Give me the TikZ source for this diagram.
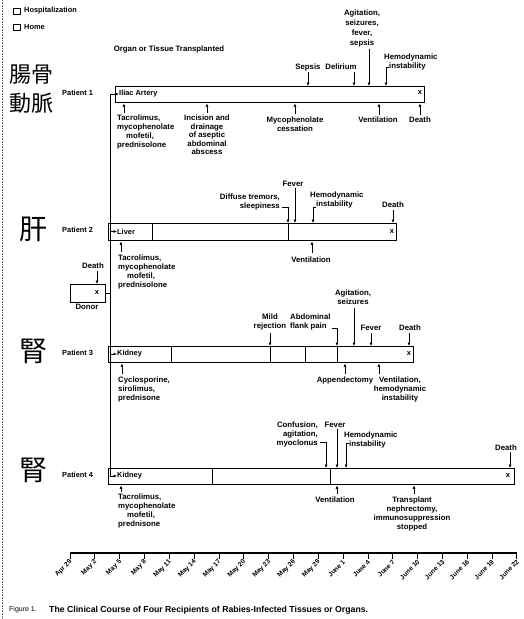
\documentclass[tikz,border=0pt]{standalone}
\usepackage{fontspec}
\setmainfont{Liberation Sans}
\newfontfamily\cjk{Noto Sans CJK JP}
\usetikzlibrary{arrows.meta,calc}
\begin{document}
\begin{tikzpicture}[x=1pt,y=-1pt,
  lbl/.style={font=\bfseries\fontsize{7.8}{9}\selectfont, align=center, inner sep=0pt, anchor=north},
  lbll/.style={lbl, align=left, anchor=north west},
  lblr/.style={lbl, align=right, anchor=north east},
  plabel/.style={font=\bfseries\fontsize{7.4}{8}\selectfont, inner sep=0pt, anchor=west},
  kanji/.style={font=\cjk\fontsize{22}{29}\selectfont, inner sep=0pt, anchor=north west, align=left},
  kanjib/.style={font=\cjk\fontsize{28}{30}\selectfont, inner sep=0pt, anchor=north west},
  box/.style={draw, line width=1.4pt, anchor=north west, inner sep=0pt, fill=white},
  div/.style={line width=0.9pt},
  arr/.style={-{Latex[length=3.4pt,width=3pt]}, line width=0.9pt},
  link/.style={line width=1pt},
  tick/.style={line width=0.9pt},
  datel/.style={font=\bfseries\fontsize{6.6}{7}\selectfont, inner sep=0pt, rotate=45, anchor=east},
  dmark/.style={font=\bfseries\fontsize{7.5}{8}\selectfont, inner sep=0pt},
  legbox/.style={draw, line width=1.1pt, minimum width=6.5pt, minimum height=5.5pt, inner sep=0pt, anchor=north west},
]
\useasboundingbox (0,0) rectangle (524,619);
\fill[white] (0,0) rectangle (524,619);
\draw[densely dotted, line width=0.6pt, black!60] (2,0) -- (2,619);

% legend
\node[legbox] (lgh) at (13,8) {};
\node[plabel] (lght) at (24,11) {Hospitalization};
\node[legbox] (lgm) at (13,24) {};
\node[plabel] (lgmt) at (24,27) {Home};

\node[lbl] (title) at (169,46) {Organ or Tissue Transplanted};

% kanji
\node[kanji] (k1) at (9,65) {腸骨\\動脈};
\node[kanjib] (k2) at (19,217) {肝};
\node[kanjib] (k3) at (19,339) {腎};
\node[kanjib] (k4) at (19,458) {腎};

% patient labels
\node[plabel] (pl1) at (62,93) {Patient 1};
\node[plabel] (pl2) at (62,230) {Patient 2};
\node[plabel] (pl3) at (62,353) {Patient 3};
\node[plabel] (pl4) at (62,475) {Patient 4};

% boxes
\node[box, minimum width=309pt, minimum height=16pt] (p1) at (115,86) {};
\node[box, minimum width=288pt, minimum height=17pt] (p2) at (108,223) {};
\node[box, minimum width=305pt, minimum height=16pt] (p3) at (108,346) {};
\node[box, minimum width=406pt, minimum height=16pt] (p4) at (108,468) {};
\node[box, line width=1.1pt, minimum width=35pt, minimum height=18pt] (donor) at (70,284) {};

% dividers
\draw[div] (152,223) -- (152,240);
\draw[div] (288,223) -- (288,240);
\draw[div] (171,346) -- (171,362);
\draw[div] (270,346) -- (270,362);
\draw[div] (305,346) -- (305,362);
\draw[div] (337,346) -- (337,362);
\draw[div] (212,468) -- (212,484);
\draw[div] (330,468) -- (330,484);

% organ labels inside boxes
\node[plabel] (o1) at (119,94) {Iliac Artery};
\node[plabel] (o2) at (117,231.5) {Liver};
\node[plabel] (o3) at (117,354) {Kidney};
\node[plabel] (o4) at (117,476) {Kidney};

% death marks
\node[dmark] (x1) at (420,93) {x};
\node[dmark] (x2) at (392,232) {x};
\node[dmark] (x3) at (409,354) {x};
\node[dmark] (x4) at (508,476) {x};
\node[dmark] (xd) at (97,293) {x};

% donor tree
\coordinate (vtop) at (110,94);
\coordinate (vbot) at (110,476);
\draw[link] (vtop) -- (vbot);
\draw[link] (donor.east) -- (donor.east -| vtop);
\draw[arr] (vtop) -- (o1.west);
\draw[arr] (vtop |- o2.west) -- (o2.west);
\draw[arr] (vtop |- o3.west) -- (o3.west);
\draw[arr] (vbot) -- (o4.west);

\node[lbl] (dd) at (93,263) {Death};
\coordinate (ddA) at (97,271);
\draw[arr] (ddA) -- (ddA |- donor.north);
\node[lbl] (dn) at (87,304) {Donor};

% ---------- Patient 1 ----------
\node[lbl] (s1) at (308,64) {Sepsis};
\coordinate (s1A) at (308,72);
\draw[arr] (s1A) -- (s1A |- p1.north);
\node[lbl] (del1) at (341,64) {Delirium};
\coordinate (del1A) at (354,72);
\draw[arr] (del1A) -- (del1A |- p1.north);
\node[lbl, font=\bfseries\fontsize{7.8}{10}\selectfont] (ag1) at (362,10) {Agitation,\\seizures,\\fever,\\sepsis};
\coordinate (ag1A) at (369,49);
\draw[arr] (ag1A) -- (ag1A |- p1.north);
\node[lbll] (h1) at (384,54) {Hemodynamic\\\hspace*{5pt}instability};
\coordinate (h1A) at (389,67);
\draw[arr] (h1A) -| (386,86);

\node[lbll] (t1) at (117,115) {Tacrolimus,\\mycophenolate\\\hspace*{9pt}mofetil,\\prednisolone};
\coordinate (t1A) at (124,113);
\draw[arr] (t1A) -- (t1A |- p1.south);
\node[lbl, font=\bfseries\fontsize{7.8}{8.4}\selectfont] (inc1) at (207,115) {Incision and\\drainage\\of aseptic\\abdominal\\abscess};
\coordinate (inc1A) at (207,113);
\draw[arr] (inc1A) -- (inc1A |- p1.south);
\node[lbl] (my1) at (295,117) {Mycophenolate\\cessation};
\coordinate (my1A) at (295,114);
\draw[arr] (my1A) -- (my1A |- p1.south);
\node[lbl] (v1) at (378,117) {Ventilation};
\coordinate (v1A) at (379,115);
\draw[arr] (v1A) -- (v1A |- p1.south);
\node[lbl] (d1) at (420,117) {Death};
\coordinate (d1A) at (420,115);
\draw[arr] (d1A) -- (d1A |- p1.south);

% ---------- Patient 2 ----------
\node[lblr] (df2) at (280,194) {Diffuse tremors,\\sleepiness};
\coordinate (df2A) at (282,207);
\draw[arr] (df2A) -| (288,223);
\node[lbl] (f2) at (293,181) {Fever};
\coordinate (f2A) at (295,188);
\draw[arr] (f2A) -- (f2A |- p2.north);
\node[lbll] (h2) at (310,192) {Hemodynamic\\\hspace*{6pt}instability};
\coordinate (h2A) at (316,207);
\draw[arr] (h2A) -| (313,223);
\node[lbl] (d2) at (393,202) {Death};
\coordinate (d2A) at (393,210);
\draw[arr] (d2A) -- (d2A |- p2.north);

\node[lbll] (t2) at (118,255) {Tacrolimus,\\mycophenolate\\\hspace*{9pt}mofetil,\\prednisolone};
\coordinate (t2A) at (121,252);
\draw[arr] (t2A) -- (t2A |- p2.south);
\node[lbl] (v2) at (311,257) {Ventilation};
\coordinate (v2A) at (312,253);
\draw[arr] (v2A) -- (v2A |- p2.south);

% ---------- Patient 3 ----------
\node[lbl] (ag3) at (353,290) {Agitation,\\seizures};
\coordinate (ag3A) at (354,308);
\draw[arr] (ag3A) -- (ag3A |- p3.north);
\node[lbl] (mr3) at (270,314) {Mild\\rejection};
\coordinate (mr3A) at (270,333);
\draw[arr] (mr3A) -- (mr3A |- p3.north);
\node[lbll] (ab3) at (290,314) {Abdominal\\flank pain};
\coordinate (ab3A) at (332,328);
\draw[arr] (ab3A) -| (337,346);
\node[lbl] (f3) at (371,325) {Fever};
\coordinate (f3A) at (371,333);
\draw[arr] (f3A) -- (f3A |- p3.north);
\node[lbl] (d3) at (410,325) {Death};
\coordinate (d3A) at (409,333);
\draw[arr] (d3A) -- (d3A |- p3.north);

\node[lbll] (c3) at (118,377) {Cyclosporine,\\sirolimus,\\prednisone};
\coordinate (c3A) at (122,374);
\draw[arr] (c3A) -- (c3A |- p3.south);
\node[lbl] (ap3) at (345,377) {Appendectomy};
\coordinate (ap3A) at (345,374);
\draw[arr] (ap3A) -- (ap3A |- p3.south);
\node[lbl] (v3) at (400,377) {Ventilation,\\hemodynamic\\instability};
\coordinate (v3A) at (379,374);
\draw[arr] (v3A) -- (v3A |- p3.south);

% ---------- Patient 4 ----------
\node[lblr, font=\bfseries\fontsize{7.8}{8.6}\selectfont] (cf4) at (318,422) {Confusion,\\agitation,\\myoclonus};
\coordinate (cf4A) at (320,442);
\draw[arr] (cf4A) -| (326,468);
\node[lbl] (f4) at (335,422) {Fever};
\coordinate (f4A) at (337,429);
\draw[arr] (f4A) -- (f4A |- p4.north);
\node[lbll] (h4) at (344,432) {Hemodynamic\\\hspace*{5pt}instability};
\coordinate (h4A) at (349,443);
\draw[arr] (h4A) -| (346,468);
\node[lbl] (d4) at (506,445) {Death};
\coordinate (d4A) at (510,452);
\draw[arr] (d4A) -- (d4A |- p4.north);

\node[lbll] (t4) at (118,494) {Tacrolimus,\\mycophenolate\\\hspace*{9pt}mofetil,\\prednisone};
\coordinate (t4A) at (121,492);
\draw[arr] (t4A) -- (t4A |- p4.south);
\node[lbl] (v4) at (335,497) {Ventilation};
\coordinate (v4A) at (337,494);
\draw[arr] (v4A) -- (v4A |- p4.south);
\node[lbl] (tr4) at (412,497) {Transplant\\nephrectomy,\\immunosuppression\\stopped};
\coordinate (tr4A) at (414,494);
\draw[arr] (tr4A) -- (tr4A |- p4.south);

% ---------- time axis ----------
\coordinate (ax0) at (70,553);
\coordinate (ax1) at (517,553);
\draw[line width=1.1pt] (ax0) -- (ax1);
\foreach [count=\i from 0] \d in {Apr 29,May 2,May 5,May 8,May 11,May 14,May 17,May 20,May 23,May 26,May 29,June 1,June 4,June 7,June 10,June 13,June 16,June 19,June 22}{
  \pgfmathsetmacro{\xx}{70+24.83*\i}
  \draw[tick] (\xx,553) -- (\xx,559);
  \node[datel] (date\i) at (\xx+1,561) {\d};
}

% caption
\node[plabel, font=\fontsize{7}{8}\selectfont] (figl) at (9,610) {Figure 1.};
\node[plabel, font=\bfseries\fontsize{8.7}{9}\selectfont] (cap) at (49,610) {The Clinical Course of Four Recipients of Rabies-Infected Tissues or Organs.};
\end{tikzpicture}
\end{document}
